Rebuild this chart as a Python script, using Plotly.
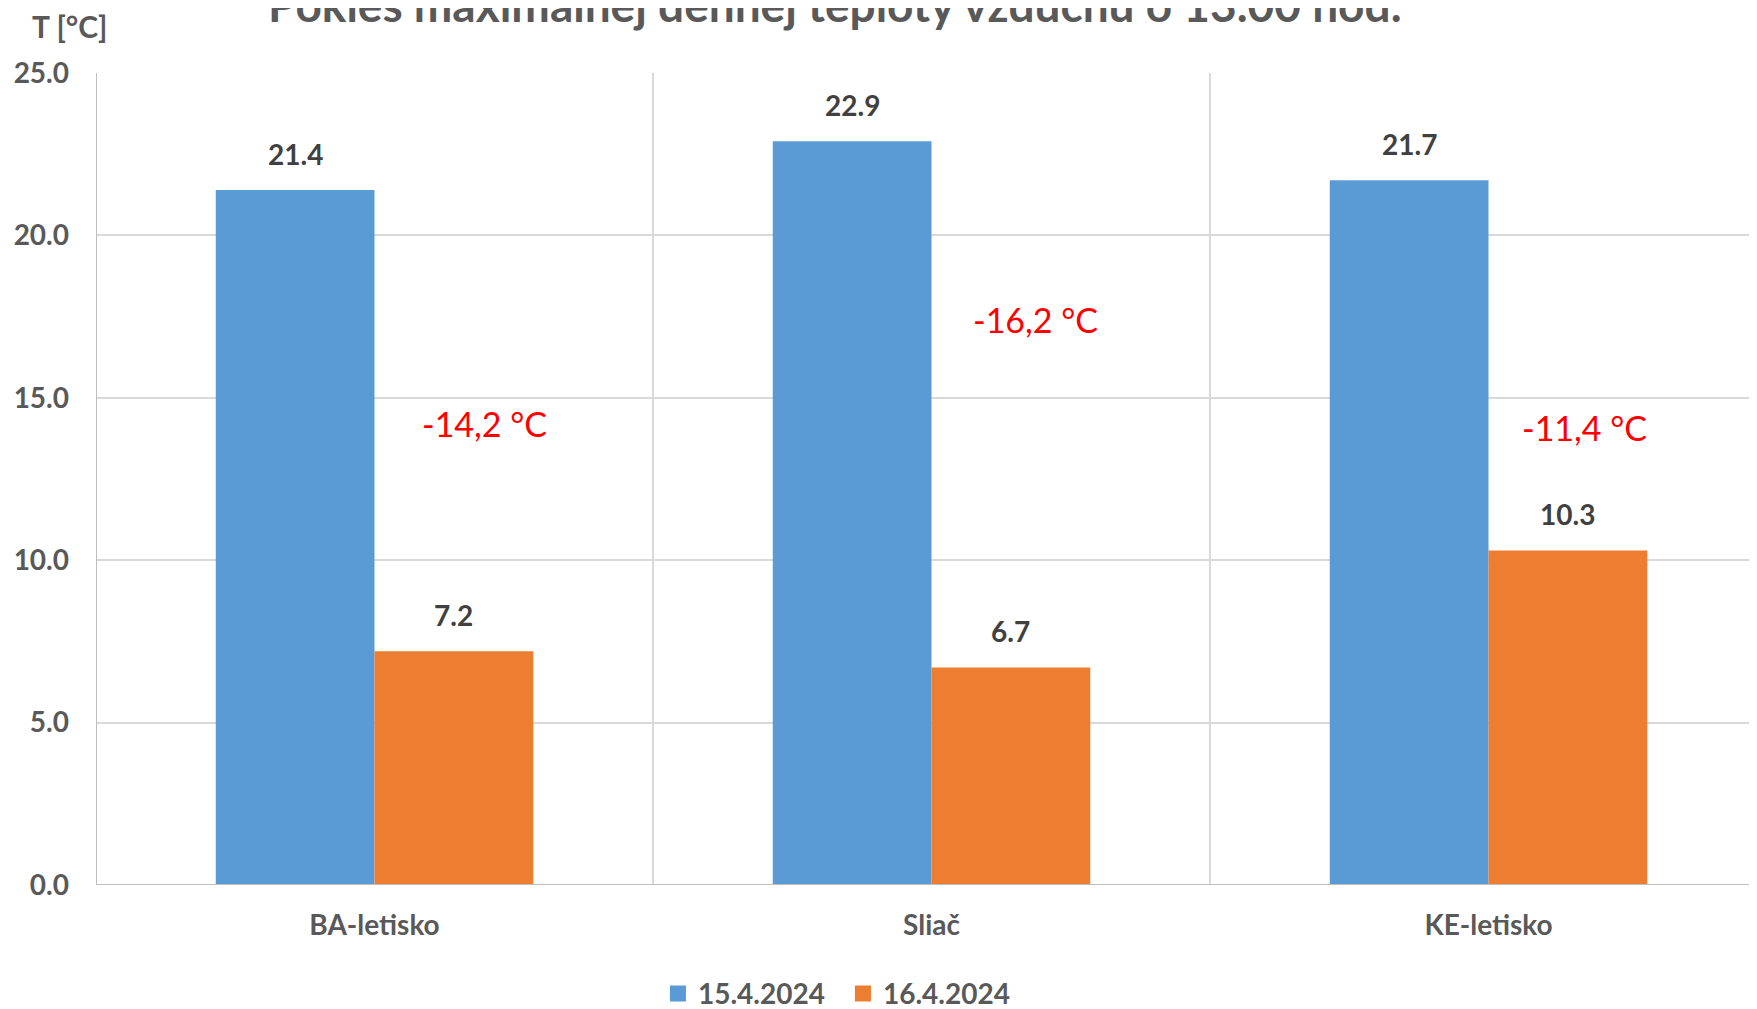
import plotly.graph_objects as go

categories = ["BA-letisko", "Sliač", "KE-letisko"]
series_names = ["15.4.2024", "16.4.2024"]
values_15 = [21.4, 22.9, 21.7]
values_16 = [7.2, 6.7, 10.3]
delta_labels = ["-14,2 °C", "-16,2 °C", "-11,4 °C"]
y_ticks = [0, 5, 10, 15, 20, 25]
title_text = "Pokles maximálnej dennej teploty vzduchu o 13.00 hod."
y_title = "T [°C]"

# layout-only values
delta_pos = [(0.198, 14.2), (1.187, 17.4), (2.172, 14.1)]
colors = ["#5B9BD5", "#ED7D31"]
FONT = "Lato"
GRAY = "#595959"
DARK = "#404040"
bargap = 0.43
half = (1 - bargap) / 4
LBL = 28

xs = list(range(len(categories)))
fig = go.Figure()
for name, vals, col in zip(series_names, [values_15, values_16], colors):
    fig.add_trace(go.Bar(x=xs, y=vals, name=name, showlegend=False,
                         marker=dict(color=col, line=dict(width=0))))
for name, col in zip(series_names, colors):
    fig.add_trace(go.Scatter(x=[None], y=[None], mode="markers", name=name,
                             marker=dict(symbol="square", size=16, color=col)))

annotations = []
for i, (v1, v2) in enumerate(zip(values_15, values_16)):
    for off, v in ((-half, v1), (half, v2)):
        annotations.append(dict(x=i + off, y=v, xref="x", yref="y", text=f"{v:.1f}",
                                showarrow=False, yanchor="bottom", yshift=17,
                                font=dict(family=FONT, size=LBL, color=DARK, weight="bold")))
for txt, (px, py) in zip(delta_labels, delta_pos):
    annotations.append(dict(x=px, y=py, xref="x", yref="y", text=txt, showarrow=False,
                            font=dict(family=FONT, size=34, color="#FF0000")))
annotations.append(dict(x=0.445, y=1.084, xref="paper", yref="paper", text=title_text,
                        showarrow=False, xanchor="center", yanchor="middle",
                        font=dict(family=FONT, size=46, color=GRAY, weight="bold")))
annotations.append(dict(x=-0.0157, y=1.058, xref="paper", yref="paper", text=y_title,
                        showarrow=False, xanchor="center", yanchor="middle",
                        font=dict(family=FONT, size=30, color=GRAY, weight="bold")))

fig.update_layout(
    width=1749, height=1001,
    margin=dict(l=88, r=0, t=65, b=124, autoexpand=False),
    plot_bgcolor="white", paper_bgcolor="white",
    barmode="group", bargap=bargap, bargroupgap=0,
    annotations=annotations,
    showlegend=True,
    legend=dict(orientation="h", x=0.4497, xanchor="center", y=-0.134, yanchor="middle",
                font=dict(family=FONT, size=LBL, color=GRAY, weight="bold"),
                itemwidth=30, entrywidth=140, traceorder="normal", itemsizing="trace"),
    xaxis=dict(range=[-0.5, 2.482], tickvals=xs, ticktext=categories, showgrid=False,
               zeroline=False, showline=False, ticks="", automargin=False,
               tickfont=dict(family=FONT, size=LBL, color=GRAY, weight="bold"),
               ticklabelstandoff=21,
               minor=dict(tick0=0.5, dtick=1, showgrid=True, gridcolor="#D9D9D9", gridwidth=2)),
    yaxis=dict(range=[0, 25], tickvals=y_ticks, tickformat=".1f", showgrid=True,
               gridcolor="#D9D9D9", gridwidth=2, zeroline=False, automargin=False,
               showline=False, ticks="", ticklabelstandoff=26,
               tickfont=dict(family=FONT, size=LBL, color=GRAY, weight="bold")),
    shapes=[
        dict(type="line", xref="x", yref="paper", x0=-0.5, x1=-0.5, y0=0, y1=1,
             line=dict(color="#BFBFBF", width=2), layer="above"),
        dict(type="line", xref="paper", yref="y", x0=0, x1=1, y0=0, y1=0,
             line=dict(color="#BFBFBF", width=2), layer="above"),
    ],
)
fig.write_html("out.html")
